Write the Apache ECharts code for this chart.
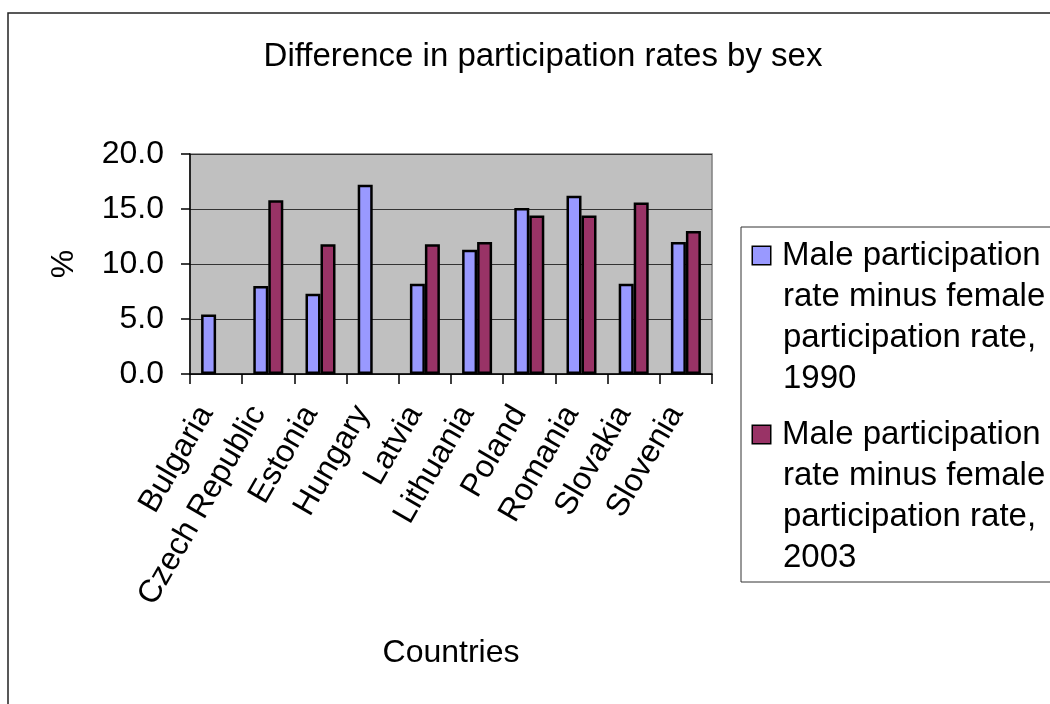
<!DOCTYPE html>
<html>
<head>
<meta charset="utf-8">
<title>Difference in participation rates by sex</title>
<script src="https://cdn.jsdelivr.net/npm/echarts@6/dist/echarts.min.js"></script>
<style>
  html, body { margin: 0; padding: 0; background: #fff; }
  #chart { width: 1050px; height: 704px; }
</style>
</head>
<body>
<div id="chart"></div>
<script>
// Countries on the category axis
const countries = ['Bulgaria', 'Czech Republic', 'Estonia', 'Hungary', 'Latvia',
  'Lithuania', 'Poland', 'Romania', 'Slovakia', 'Slovenia'];

// Male minus female participation rate, percentage points
const gap1990 = [5.4, 8.0, 7.3, 17.2, 8.2, 11.3, 15.1, 16.2, 8.2, 12.0];
const gap2003 = [null, 15.8, 11.8, null, 11.8, 12.0, 14.4, 14.4, 15.6, 13.0];

const seriesNames = [
  'Male participation rate minus female participation rate, 1990',
  'Male participation rate minus female participation rate, 2003'
];
// Legend entries as they wrap in the legend box
const legendLines = [
  ['Male participation', 'rate minus female', 'participation rate,', '1990'],
  ['Male participation', 'rate minus female', 'participation rate,', '2003']
];
const seriesColors = ['#9999FF', '#993366'];

const FONT = '"Liberation Sans", Arial, sans-serif';

const chart = echarts.init(document.getElementById('chart'), null, { renderer: 'canvas' });

const legendRich = {
  gap: { width: 12, height: 18 },
  ind: { width: 30, height: 18 },
  t: { fontSize: 33, lineHeight: 41, color: '#000', fontFamily: FONT }
};
seriesColors.forEach((c, i) => {
  legendRich['sq' + i] = { width: 17, height: 17, backgroundColor: c, borderColor: '#000', borderWidth: 1.5 };
});

chart.setOption({
  animation: false,
  backgroundColor: '#fff',
  textStyle: { fontFamily: FONT, color: '#000' },
  title: {
    text: 'Difference in participation rates by sex',
    left: 538,
    top: 35,
    textAlign: 'center',
    textStyle: { fontSize: 33, fontWeight: 'normal', color: '#000', fontFamily: FONT }
  },
  graphic: [{
    type: 'rect',
    silent: true,
    z: -10,
    shape: { x: 8, y: 13, width: 1200, height: 900 },
    style: { fill: 'none', stroke: '#222', lineWidth: 1.5 }
  }],
  legend: {
    orient: 'vertical',
    left: 741,
    top: 227,
    padding: [8, 40, 4, 7],
    itemGap: 15,
    icon: 'none',
    itemWidth: 0,
    itemHeight: 17,
    selectedMode: false,
    borderColor: '#333',
    borderWidth: 1,
    backgroundColor: '#fff',
    data: seriesNames,
    textStyle: { fontSize: 33, lineHeight: 41, color: '#000', fontFamily: FONT, rich: legendRich },
    formatter: name => {
      const i = seriesNames.indexOf(name);
      return legendLines[i].map((line, k) =>
        (k === 0 ? '{sq' + i + '|}{gap|}' : '{ind|}') + '{t|' + line + '}'
      ).join('\n');
    }
  },
  grid: {
    left: 190,
    top: 154,
    width: 522,
    height: 220,
    containLabel: false,
    outerBoundsMode: 'none',
    show: true,
    backgroundColor: '#C0C0C0',
    borderColor: '#808080',
    borderWidth: 1.5
  },
  xAxis: {
    type: 'category',
    data: countries,
    name: 'Countries',
    nameLocation: 'middle',
    nameGap: 263,
    nameTextStyle: { fontSize: 32, color: '#000', fontFamily: FONT },
    axisLine: { show: true, lineStyle: { color: '#000', width: 1.5 } },
    axisTick: { show: true, length: 10, lineStyle: { color: '#000', width: 1.5 } },
    axisLabel: {
      interval: 0, rotate: 60, margin: 17, padding: [0, 20, 0, 0],
      fontSize: 32, color: '#000', fontFamily: FONT
    },
    splitLine: { show: false }
  },
  yAxis: {
    type: 'value',
    min: 0,
    max: 20,
    interval: 5,
    name: '%',
    nameLocation: 'middle',
    nameGap: 110,
    nameRotate: 90,
    nameTextStyle: { fontSize: 32, color: '#000', fontFamily: FONT },
    axisLine: { show: true, lineStyle: { color: '#000', width: 1.5 } },
    axisTick: { show: true, length: 9, lineStyle: { color: '#000', width: 1.5 } },
    axisLabel: { margin: 26, fontSize: 32, color: '#000', fontFamily: FONT, formatter: v => v.toFixed(1) },
    splitLine: { show: true, lineStyle: { color: '#333', width: 1 } }
  },
  series: [
    {
      name: seriesNames[0],
      type: 'bar',
      data: gap1990,
      barWidth: 15,
      barGap: '0%',
      itemStyle: { color: seriesColors[0], borderColor: '#000', borderWidth: 2.5 }
    },
    {
      name: seriesNames[1],
      type: 'bar',
      data: gap2003,
      barWidth: 15,
      barGap: '0%',
      itemStyle: { color: seriesColors[1], borderColor: '#000', borderWidth: 2.5 }
    }
  ]
});
</script>
</body>
</html>
